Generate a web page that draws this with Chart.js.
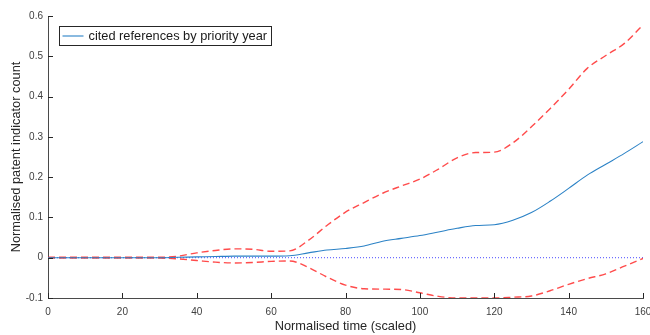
<!DOCTYPE html>
<html>
<head>
<meta charset="utf-8">
<title>Normalised patent indicator count</title>
<script src="https://cdn.jsdelivr.net/npm/chart.js@4/dist/chart.umd.min.js"></script>
<style>
  html, body { margin: 0; padding: 0; background: #ffffff; }
  #wrap { width: 650px; height: 335px; position: relative; }
</style>
</head>
<body>
<div id="wrap"><canvas id="chart" width="650" height="335"></canvas></div>
<script>
// Normalised time axis (scaled), sampled every 5 units
const timePoints = [0, 5, 10, 15, 20, 25, 30, 35, 40, 45, 50, 55, 60, 65, 70, 75, 80,
  85, 90, 95, 100, 105, 110, 115, 120, 125, 130, 135, 140, 145, 150, 155, 160];

// Mean curve: cited references by priority year
const meanCount = [0, 0, 0, 0, 0, 0, 0, 0.001, 0.002, 0.003, 0.004, 0.004, 0.004, 0.005, 0.012, 0.019, 0.023,
  0.029, 0.041, 0.048, 0.055, 0.064, 0.073, 0.080, 0.082, 0.093, 0.112, 0.140, 0.172, 0.205, 0.232, 0.259, 0.288];

// Upper confidence band
const upperBound = [0.001, 0.001, 0.001, 0.001, 0.001, 0.001, 0.001, 0.004, 0.012, 0.018, 0.022, 0.021, 0.016, 0.017, 0.043, 0.080, 0.113,
  0.137, 0.160, 0.178, 0.195, 0.220, 0.248, 0.261, 0.262, 0.285, 0.325, 0.370, 0.418, 0.470, 0.502, 0.532, 0.578];

// Lower confidence band
const lowerBound = [-0.001, -0.001, -0.001, -0.001, -0.001, -0.001, -0.001, -0.003, -0.007, -0.011, -0.013, -0.012, -0.009, -0.008, -0.024, -0.048, -0.068,
  -0.077, -0.078, -0.079, -0.087, -0.096, -0.100, -0.100, -0.100, -0.098, -0.095, -0.082, -0.066, -0.052, -0.040, -0.021, -0.002];

// Zero reference line
const zeroLineX = [0, 160];
const zeroLineY = [0, 0];

// Tick labels
const xTicks = [0, 20, 40, 60, 80, 100, 120, 140, 160];
const yTicks = [-0.1, 0, 0.1, 0.2, 0.3, 0.4, 0.5, 0.6];

const FONT = '"Liberation Sans", Arial, Helvetica, sans-serif';
const AXIS_COLOR = '#4a4a4a';
const TEXT_COLOR = '#404040';

const toPoints = (xs, ys) => xs.map((x, i) => ({ x: x, y: ys[i] }));

// Inward tick marks on the left and bottom axes
const innerTicks = {
  id: 'innerTicks',
  afterDraw(chart) {
    const { ctx, chartArea, scales } = chart;
    ctx.save();
    ctx.strokeStyle = '#262626';
    ctx.lineWidth = 1;
    ctx.beginPath();
    scales.x.ticks.forEach(t => {
      const px = Math.round(scales.x.getPixelForValue(t.value)) + 0.5;
      ctx.moveTo(px, chartArea.bottom);
      ctx.lineTo(px, chartArea.bottom - 5);
    });
    scales.y.ticks.forEach(t => {
      const py = Math.round(scales.y.getPixelForValue(t.value)) + 0.5;
      ctx.moveTo(chartArea.left, py);
      ctx.lineTo(chartArea.left + 5, py);
    });
    ctx.stroke();
    ctx.restore();
  }
};

// Boxed legend in the upper-left corner of the plot
const boxLegend = {
  id: 'boxLegend',
  afterDraw(chart) {
    const { ctx, chartArea } = chart;
    const ds = chart.data.datasets[0];
    const x0 = chartArea.left + 11.5, y0 = chartArea.top + 10.5;
    ctx.save();
    ctx.font = '12.8px ' + FONT;
    const textW = ctx.measureText(ds.label).width;
    const w = Math.round(40 + textW - 7), h = 19;
    ctx.fillStyle = '#ffffff';
    ctx.fillRect(x0, y0, w, h);
    ctx.strokeStyle = '#262626';
    ctx.lineWidth = 1;
    ctx.strokeRect(x0, y0, w, h);
    ctx.strokeStyle = ds.borderColor;
    ctx.lineWidth = ds.borderWidth;
    ctx.beginPath();
    ctx.moveTo(x0 + 3, y0 + 9.5);
    ctx.lineTo(x0 + 24, y0 + 9.5);
    ctx.stroke();
    ctx.fillStyle = '#1a1a1a';
    ctx.textBaseline = 'middle';
    ctx.textAlign = 'left';
    ctx.fillText(ds.label, x0 + 29, y0 + 10);
    ctx.restore();
  }
};

new Chart(document.getElementById('chart'), {
  type: 'line',
  data: {
    datasets: [
      {
        label: 'cited references by priority year',
        data: toPoints(timePoints, meanCount),
        borderColor: '#2b82c6',
        borderWidth: 1.1,
        pointRadius: 0,
        cubicInterpolationMode: 'monotone',
        fill: false,
        order: 1
      },
      {
        label: 'upper',
        data: toPoints(timePoints, upperBound),
        borderColor: 'rgba(255, 30, 30, 0.8)',
        borderWidth: 1.4,
        borderDash: [7, 4],
        pointRadius: 0,
        cubicInterpolationMode: 'monotone',
        fill: false,
        order: 2
      },
      {
        label: 'lower',
        data: toPoints(timePoints, lowerBound),
        borderColor: 'rgba(255, 30, 30, 0.8)',
        borderWidth: 1.4,
        borderDash: [7, 4],
        pointRadius: 0,
        cubicInterpolationMode: 'monotone',
        fill: false,
        order: 3
      },
      {
        label: 'zero',
        data: toPoints(zeroLineX, zeroLineY),
        borderColor: 'rgba(40, 40, 255, 0.85)',
        borderWidth: 1,
        borderDash: [1, 2],
        pointRadius: 0,
        fill: false,
        order: 4
      }
    ]
  },
  options: {
    responsive: false,
    animation: false,
    devicePixelRatio: 1,
    layout: { padding: { top: 16, right: 7, left: 0, bottom: 0 } },
    plugins: {
      legend: { display: false },
      tooltip: { enabled: false }
    },
    scales: {
      x: {
        type: 'linear',
        min: 0,
        max: 160,
        afterBuildTicks: s => { s.ticks = xTicks.map(v => ({ value: v })); },
        afterFit: s => { s.height = 37; s.paddingLeft = 0; s.paddingRight = 0; },
        grid: { display: true, drawOnChartArea: false, drawTicks: false },
        border: { display: true, color: AXIS_COLOR, width: 1 },
        ticks: {
          padding: 8,
          color: TEXT_COLOR,
          font: { family: FONT, size: 10 },
          maxRotation: 0,
          callback: v => String(v)
        },
        title: {
          display: true,
          text: 'Normalised time (scaled)',
          color: '#262626',
          font: { family: FONT, size: 12.8 },
          padding: { top: 0, bottom: 1 }
        }
      },
      y: {
        type: 'linear',
        min: -0.1,
        max: 0.6,
        afterBuildTicks: s => { s.ticks = yTicks.map(v => ({ value: v })); },
        afterFit: s => { s.width = 48; s.paddingTop = 0; s.paddingBottom = 0; },
        grid: { display: true, drawOnChartArea: false, drawTicks: false },
        border: { display: true, color: AXIS_COLOR, width: 1 },
        ticks: {
          padding: 5,
          color: TEXT_COLOR,
          font: { family: FONT, size: 10 },
          callback: v => String(v)
        },
        title: {
          display: true,
          text: 'Normalised patent indicator count',
          color: '#262626',
          font: { family: FONT, size: 12.8 },
          padding: { top: 9, bottom: 0 }
        }
      }
    }
  },
  plugins: [innerTicks, boxLegend]
});
</script>
</body>
</html>
